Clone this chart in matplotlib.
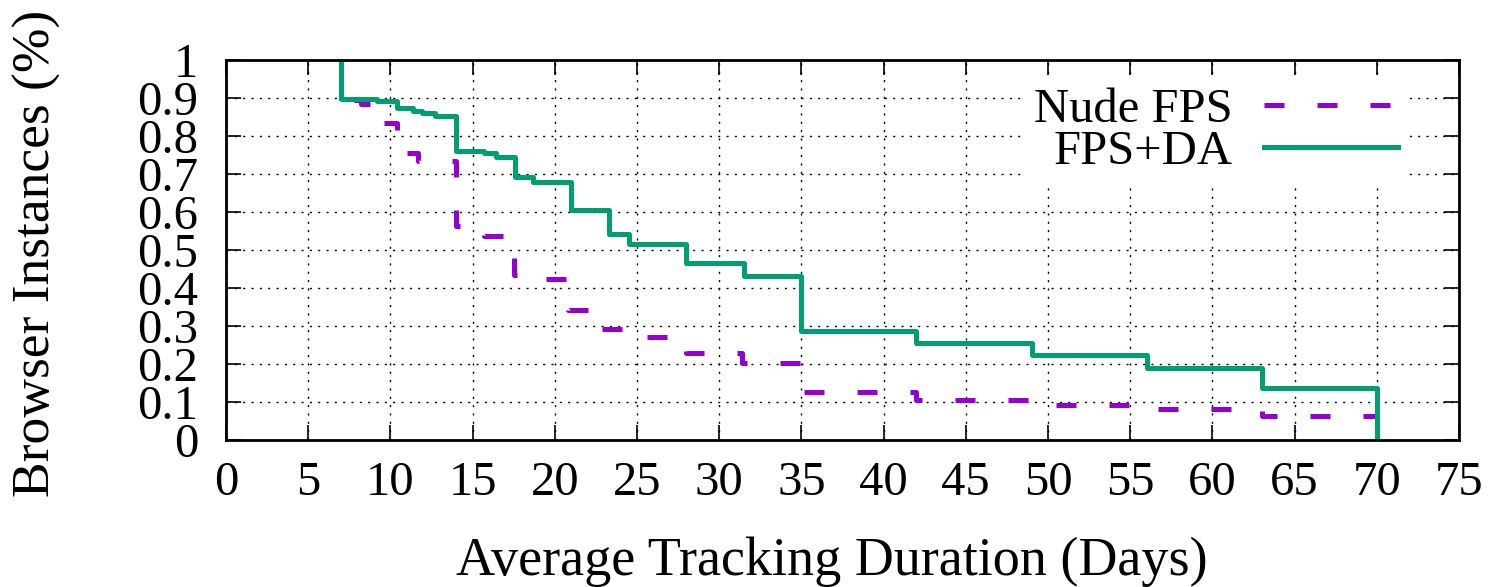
import matplotlib
matplotlib.use("Agg")
import matplotlib.pyplot as plt
import numpy as np

# step points (days where the curve changes, value after the change)
nude_days = [7, 7, 8.2, 9.5, 10.4, 11.65, 14, 15.7, 17.5, 18.5, 20.8, 22.6,
             25.0, 28, 31.4, 35, 42, 49, 55.8, 63, 70]
nude_frac = [1.0, 0.895, 0.885, 0.835, 0.754, 0.735, 0.564, 0.538, 0.435,
             0.423, 0.342, 0.293, 0.271, 0.229, 0.203, 0.126, 0.106, 0.093,
             0.082, 0.063, 0.0]

da_days = [7, 7, 9.2, 10.4, 11.4, 11.9, 12.7, 14, 15.7, 16.4, 17.6, 18.7, 21,
           23.3, 24.5, 28, 31.5, 35, 42, 49, 56, 63, 70]
da_frac = [1.0, 0.898, 0.893, 0.875, 0.866, 0.86, 0.853, 0.76, 0.755, 0.745,
           0.692, 0.679, 0.604, 0.542, 0.517, 0.467, 0.432, 0.288, 0.256,
           0.225, 0.19, 0.137, 0.0]

x_ticks = np.arange(0, 76, 5)
y_ticks = np.round(np.arange(0, 1.01, 0.1), 1)
y_labels = ["0"] + [f"{v:.1f}" for v in y_ticks[1:-1]] + ["1"]

plt.rcParams['font.family'] = ['Liberation Serif', 'DejaVu Serif']

fig = plt.figure(figsize=(14.91, 5.87), dpi=100)
ax = fig.add_axes([226 / 1491, 1 - 440 / 587, (1459 - 226) / 1491, 380 / 587])

ax.step(nude_days, nude_frac, where='post', color='#9400d3', lw=3.6,
        dashes=(4, 6.6), dash_capstyle='butt', label='Nude FPS')
ax.step(da_days, da_frac, where='post', color='#009e73', lw=3.6,
        label='FPS+DA')

ax.set_xlim(0, 75)
ax.set_ylim(0, 1)
ax.set_xticks(x_ticks)
ax.set_yticks(y_ticks)
ax.set_yticklabels(y_labels)

ax.grid(True, color='black', lw=1.0, linestyle=(0, (1.5, 4.5)))
ax.set_axisbelow(True)
for s in ax.spines.values():
    s.set_linewidth(2)

ax.tick_params(axis='both', direction='in', length=11, width=1.2,
               top=True, right=True, labelsize=35)
ax.tick_params(axis='y', pad=20)
ax.tick_params(axis='x', pad=15)

ax.set_xlabel('Average Tracking Duration (Days)', fontsize=39)
ax.set_ylabel('Browser Instances (%)', fontsize=38.5)
ax.xaxis.set_label_coords(0.491, -0.255)
ax.yaxis.set_label_coords(-0.134, 0.49)

leg = ax.legend(loc='upper right', bbox_to_anchor=(0.978, 1.015),
                fontsize=35, markerfirst=False, handlelength=2.75,
                handletextpad=0.65, labelspacing=-0.05, borderpad=0.2,
                frameon=True, fancybox=False, framealpha=1,
                facecolor='white', edgecolor='none')

fig.savefig('out.png', dpi=100)
